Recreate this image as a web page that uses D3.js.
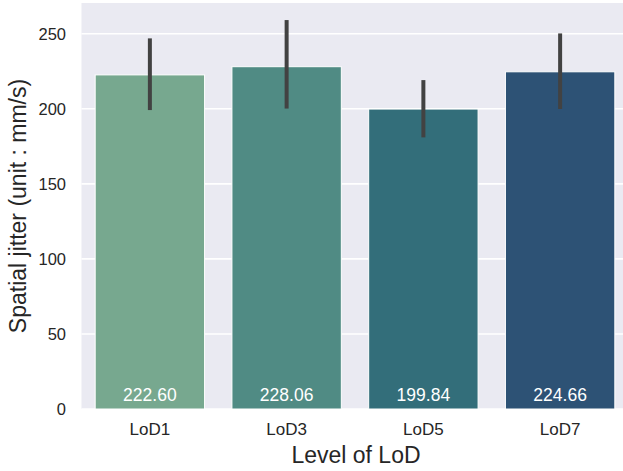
<!DOCTYPE html>
<html>
<head>
<meta charset="utf-8">
<script src="https://cdn.jsdelivr.net/npm/d3@7"></script>
<style>
  html, body { margin: 0; padding: 0; background: #ffffff; }
  svg { display: block; font-family: "Liberation Sans", Arial, sans-serif; }
</style>
</head>
<body>
<svg id="chart" width="623" height="471"></svg>
<script>
// Mean spatial jitter per level of detail, with confidence intervals
const categories = ["LoD1", "LoD3", "LoD5", "LoD7"];
const means = [222.60, 228.06, 199.84, 224.66];
const ciLow = [200.5, 201.5, 182.3, 201.2];
const ciHigh = [245.6, 257.8, 217.8, 248.9];
const barColors = ["#77a88f", "#508b84", "#336e7a", "#2d5275"];
const yTicks = [0, 50, 100, 150, 200, 250];

const svg = d3.select("#chart");
const plot = { left: 81.5, right: 628.5, top: 3, bottom: 409 };

const x = d3.scaleBand()
  .domain(categories)
  .range([plot.left, plot.right])
  .paddingInner(0.2)
  .paddingOuter(0.1);

const y = d3.scaleLinear()
  .domain([0, 270.5])
  .range([plot.bottom, plot.top]);

// background panel
svg.append("rect")
  .attr("x", plot.left).attr("y", plot.top)
  .attr("width", plot.right - plot.left)
  .attr("height", plot.bottom - plot.top)
  .attr("fill", "#eaeaf2");

// horizontal grid lines
svg.append("g")
  .selectAll("line")
  .data(yTicks)
  .join("line")
  .attr("x1", plot.left).attr("x2", plot.right)
  .attr("y1", d => y(d)).attr("y2", d => y(d))
  .attr("stroke", "#ffffff")
  .attr("stroke-width", 1.6);

// y axis tick labels
const yAxis = d3.axisLeft(y).tickValues(yTicks).tickSize(0).tickPadding(15.5);
const gy = svg.append("g")
  .attr("transform", `translate(${plot.left},0)`)
  .call(yAxis);
gy.select(".domain").remove();
gy.selectAll("text")
  .attr("fill", "#262626")
  .style("font-size", "16.5px")
  .style("font-family", "'Liberation Sans', Arial, sans-serif");

// x axis tick labels
const xAxis = d3.axisBottom(x).tickSize(0).tickPadding(14);
const gx = svg.append("g")
  .attr("transform", `translate(0,${plot.bottom})`)
  .call(xAxis);
gx.select(".domain").remove();
gx.selectAll("text")
  .attr("fill", "#262626")
  .style("font-size", "17px")
  .style("font-family", "'Liberation Sans', Arial, sans-serif");

// bars
svg.append("g")
  .selectAll("rect")
  .data(categories)
  .join("rect")
  .attr("x", d => x(d))
  .attr("width", x.bandwidth())
  .attr("y", (d, i) => y(means[i]))
  .attr("height", (d, i) => y(0) - y(means[i]))
  .attr("fill", (d, i) => barColors[i])
  .attr("stroke", "#ffffff")
  .attr("stroke-width", 1);

// confidence interval lines
svg.append("g")
  .selectAll("line")
  .data(categories)
  .join("line")
  .attr("x1", d => x(d) + x.bandwidth() / 2)
  .attr("x2", d => x(d) + x.bandwidth() / 2)
  .attr("y1", (d, i) => y(ciLow[i]))
  .attr("y2", (d, i) => y(ciHigh[i]))
  .attr("stroke", "#424242")
  .attr("stroke-width", 4)
  .attr("stroke-linecap", "square");

// value labels inside the bars
svg.append("g")
  .selectAll("text")
  .data(categories)
  .join("text")
  .attr("x", d => x(d) + x.bandwidth() / 2)
  .attr("y", y(0) - 8)
  .attr("text-anchor", "middle")
  .attr("fill", "#ffffff")
  .style("font-size", "17.5px")
  .text((d, i) => means[i].toFixed(2));

// axis titles
svg.append("text")
  .attr("x", (plot.left + plot.right) / 2 + 1)
  .attr("y", 463)
  .attr("text-anchor", "middle")
  .attr("fill", "#262626")
  .style("font-size", "23px")
  .text("Level of LoD");

svg.append("text")
  .attr("transform", `translate(26,${(plot.top + plot.bottom) / 2}) rotate(-90)`)
  .attr("text-anchor", "middle")
  .attr("fill", "#262626")
  .style("font-size", "23px")
  .text("Spatial jitter (unit : mm/s)");
</script>
</body>
</html>
